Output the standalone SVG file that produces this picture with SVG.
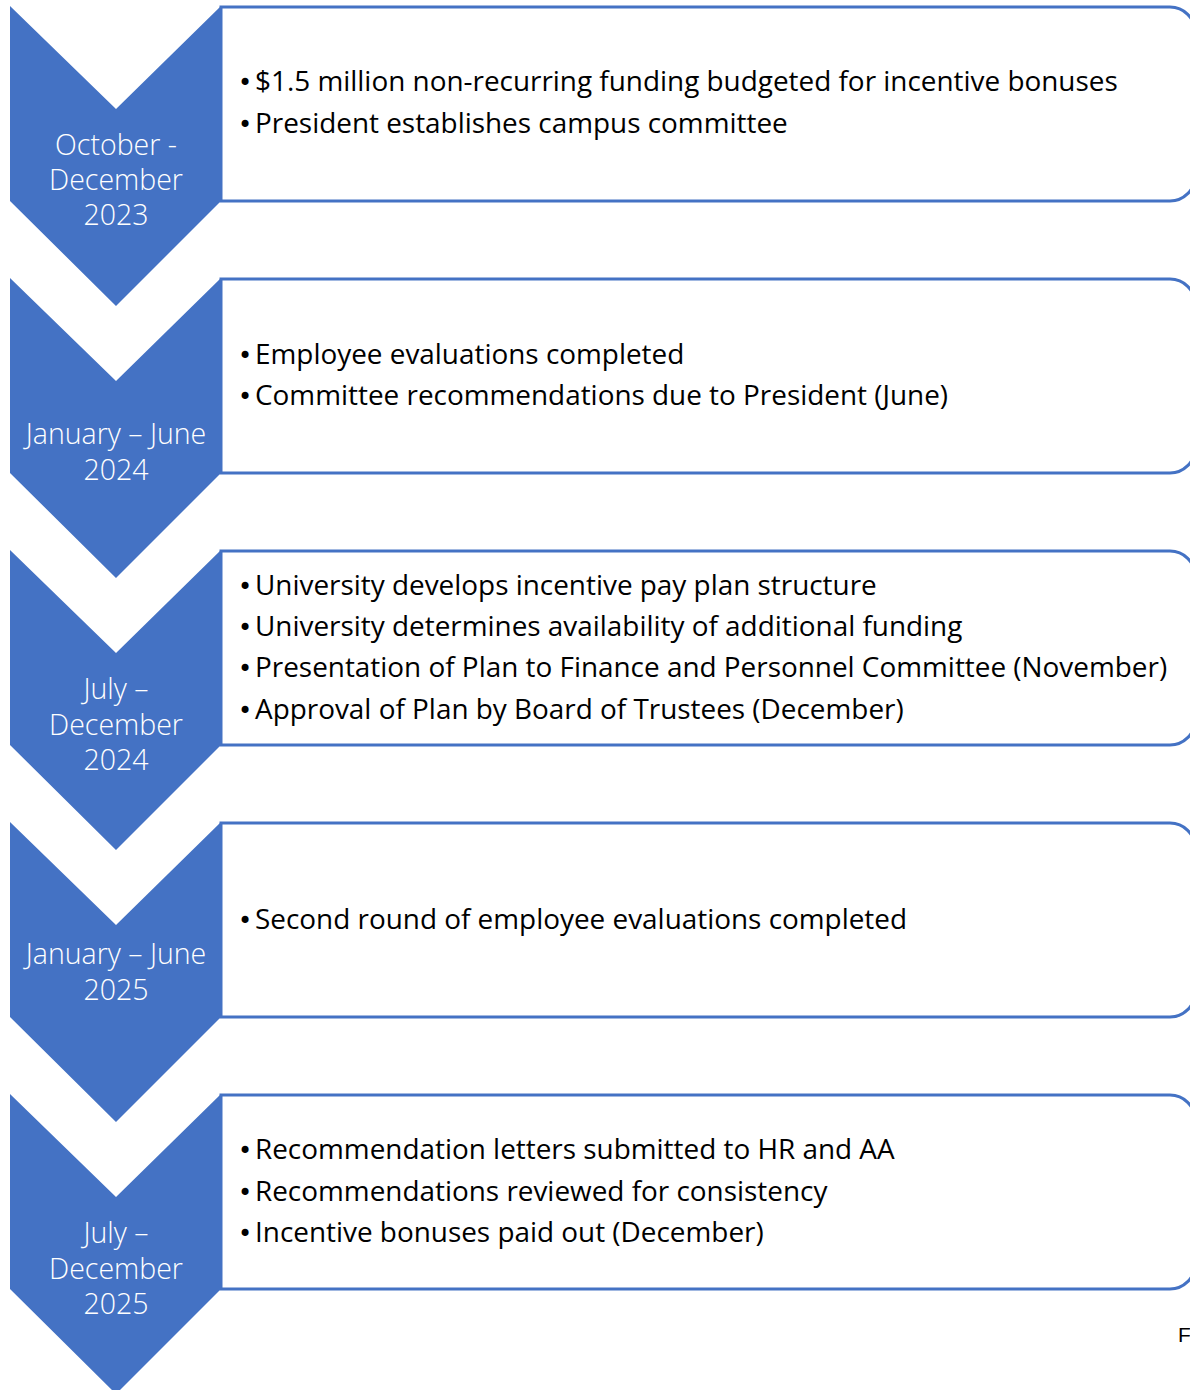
<svg xmlns="http://www.w3.org/2000/svg" width="1190" height="1390" viewBox="0 0 1190 1390">
<style>
.box{fill:#fff;stroke:#4472C4;stroke-width:3}
.chev{fill:#4472C4}
.lbl{font-family:"Open Sans","Noto Sans",sans-serif;font-weight:300;font-size:28.5px;fill:#fff;text-anchor:middle}
.txt{font-family:"Open Sans","Noto Sans",sans-serif;font-size:27.9px;fill:#000}
.b{font-family:"DejaVu Sans",sans-serif;font-size:24px}
</style>
<defs>
<path id="boxshape" d="M221,0 H1170 A25,25 0 0 1 1195,25 V169 A25,25 0 0 1 1170,194 H221 Z"/>
<path id="chevshape" d="M10,0 L116,103 L221,0 V195 L116,300 L10,195 Z"/>
</defs>
<g id="connectors"></g>
<g id="step1">
<use href="#boxshape" class="box" y="7"/>
<use href="#chevshape" class="chev" y="6"/>
<text class="lbl" x="116" y="155">October -</text>
<text class="lbl" x="116" y="190">December</text>
<text class="lbl" x="116" y="225">2023</text>
<text class="txt" x="238" y="91"><tspan class="b">•</tspan><tspan x="255">$1.5 million non-recurring funding budgeted for incentive bonuses</tspan></text>
<text class="txt" x="238" y="133"><tspan class="b">•</tspan><tspan x="255">President establishes campus committee</tspan></text>
</g>
<g id="step2">
<use href="#boxshape" class="box" y="279"/>
<use href="#chevshape" class="chev" y="278"/>
<text class="lbl" x="116" y="444">January – June</text>
<text class="lbl" x="116" y="480">2024</text>
<text class="txt" x="238" y="364"><tspan class="b">•</tspan><tspan x="255">Employee evaluations completed</tspan></text>
<text class="txt" x="238" y="405"><tspan class="b">•</tspan><tspan x="255">Committee recommendations due to President (June)</tspan></text>
</g>
<g id="step3">
<use href="#boxshape" class="box" y="551"/>
<use href="#chevshape" class="chev" y="550"/>
<text class="lbl" x="116" y="699">July –</text>
<text class="lbl" x="116" y="735">December</text>
<text class="lbl" x="116" y="770">2024</text>
<text class="txt" x="238" y="595"><tspan class="b">•</tspan><tspan x="255">University develops incentive pay plan structure</tspan></text>
<text class="txt" x="238" y="636"><tspan class="b">•</tspan><tspan x="255">University determines availability of additional funding</tspan></text>
<text class="txt" x="238" y="677"><tspan class="b">•</tspan><tspan x="255">Presentation of Plan to Finance and Personnel Committee (November)</tspan></text>
<text class="txt" x="238" y="719"><tspan class="b">•</tspan><tspan x="255">Approval of Plan by Board of Trustees (December)</tspan></text>
</g>
<g id="step4">
<use href="#boxshape" class="box" y="823"/>
<use href="#chevshape" class="chev" y="822"/>
<text class="lbl" x="116" y="964">January – June</text>
<text class="lbl" x="116" y="1000">2025</text>
<text class="txt" x="238" y="929"><tspan class="b">•</tspan><tspan x="255">Second round of employee evaluations completed</tspan></text>
</g>
<g id="step5">
<use href="#boxshape" class="box" y="1095"/>
<use href="#chevshape" class="chev" y="1094"/>
<text class="lbl" x="116" y="1243">July –</text>
<text class="lbl" x="116" y="1279">December</text>
<text class="lbl" x="116" y="1314">2025</text>
<text class="txt" x="238" y="1159"><tspan class="b">•</tspan><tspan x="255">Recommendation letters submitted to HR and AA</tspan></text>
<text class="txt" x="238" y="1201"><tspan class="b">•</tspan><tspan x="255">Recommendations reviewed for consistency</tspan></text>
<text class="txt" x="238" y="1242"><tspan class="b">•</tspan><tspan x="255">Incentive bonuses paid out (December)</tspan></text>
</g>
<text x="1178" y="1342" style="font-family:'Liberation Sans',sans-serif;font-size:21px;fill:#000">F</text>
</svg>
